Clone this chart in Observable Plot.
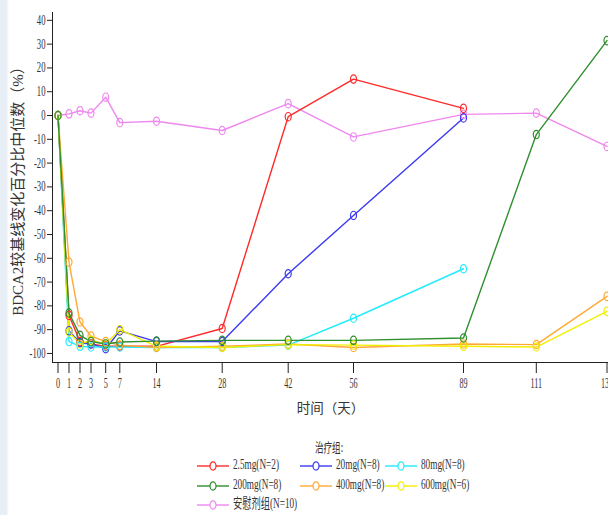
<!DOCTYPE html>
<html>
<head>
<meta charset="utf-8">
<script src="https://cdn.jsdelivr.net/npm/d3@7"></script>
<script src="https://cdn.jsdelivr.net/npm/@observablehq/plot@0.6"></script>
<style>
  html, body { margin: 0; padding: 0; background: linear-gradient(to right, #e7eef6 0, #e7eef6 6px, #ffffff 9px); }
  #wrap { width: 608px; height: 515px; overflow: hidden; }
  svg { display: block; }
</style>
</head>
<body>
<div id="wrap"></div>
<script>
// ---- data ----
const days = [0, 1, 2, 3, 5, 7, 14, 28, 42, 56, 89, 111, 133];
const dayTickLabels = ["0", "1", "2", "3", "5", "7", "14", "28", "42", "56", "89", "111", "133"];
const yTicks = [40, 30, 20, 10, 0, -10, -20, -30, -40, -50, -60, -70, -80, -90, -100];

const groups = ["2.5mg(N=2)", "20mg(N=8)", "80mg(N=8)", "200mg(N=8)", "400mg(N=8)", "600mg(N=6)", "安慰剂组(N=10)"];
const colors = ["#ff2a2a", "#3a3af2", "#20ecfc", "#2f8f2f", "#ffa935", "#f2ee00", "#ee88ee"];

const dose2_5 = [0, -84, -95, -96, -97, -97, -97, -89.5, -0.5, 15.3, 3];
const dose20  = [0, -90.5, -95.5, -96, -98, -90.5, -95, -95, -66.5, -42, -1];
const dose80  = [0, -95, -97, -97.3, -97.3, -97.3, -97.5, -97.5, -96.5, -85.2, -64.4];
const dose200 = [0, -83, -92.4, -95, -96, -95.2, -94.8, -94.5, -94.5, -94.5, -93.5, -8, 31.5];
const dose400 = [0, -61.6, -86.8, -92.7, -95, -96.5, -97.5, -97, -96, -97.5, -96, -96.3, -76];
const dose600 = [0, -91, -96, -94.5, -96, -90, -97, -97.5, -96.3, -96.5, -97, -97.3, -82.3];
const placebo = [0, 0.7, 2, 1, 7.7, -3, -2.4, -6.3, 5, -9, 0.5, 1, -13];

const seriesValues = [dose2_5, dose20, dose80, dose200, dose400, dose600, placebo];
const drawOrder = [6, 0, 1, 2, 4, 5, 3];

const table = [];
for (const gi of drawOrder) {
  seriesValues[gi].forEach((v, i) => table.push({group: groups[gi], day: days[i], value: v}));
}

// hollow ellipse symbol (the reference's markers are slightly taller than wide)
const ellipse = {
  draw(context, size) {
    const r = Math.sqrt(size / Math.PI);
    const rx = r * 0.75, ry = r * 1.05, k = 0.5523;
    context.moveTo(rx, 0);
    context.bezierCurveTo(rx, k * ry, k * rx, ry, 0, ry);
    context.bezierCurveTo(-k * rx, ry, -rx, k * ry, -rx, 0);
    context.bezierCurveTo(-rx, -k * ry, -k * rx, -ry, 0, -ry);
    context.bezierCurveTo(k * rx, -ry, rx, -k * ry, rx, 0);
    context.closePath();
  }
};

const serif = "'Liberation Serif', 'Noto Sans CJK SC', serif";
const cjk = "'Noto Sans CJK SC', 'Liberation Serif', sans-serif";

const chart = Plot.plot({
  width: 608,
  height: 430,
  marginLeft: 52,
  marginRight: 0,
  marginTop: 12,
  marginBottom: 68,
  style: {fontFamily: serif, fontSize: "12px", color: "#222", background: "transparent", overflow: "visible"},
  x: {
    type: "linear",
    domain: [-0.55, ...days],
    range: [52, 57.5, 68.5, 79.5, 90.5, 105.2, 119.3, 156, 221.7, 287.7, 353, 463, 535.8, 606.5]
  },
  y: {domain: [-103.8, 43.3]},
  color: {domain: groups, range: colors},
  marks: [
    Plot.frame({anchor: "left", stroke: "#222"}),
    Plot.frame({anchor: "bottom", stroke: "#222"}),
    Plot.axisY({ticks: yTicks, tickSize: 5, tickPadding: 2, tickFormat: d => String(d), label: null, fontSize: 14, fill: "#333"}),
    Plot.axisX({ticks: days, tickSize: 11, tickPadding: 4, tickFormat: d => dayTickLabels[days.indexOf(d)], label: null, fontSize: 14.5, fill: "#333"}),
    Plot.line(table, {x: "day", y: "value", z: "group", stroke: "group", strokeWidth: 1.4}),
    Plot.dot(table, {x: "day", y: "value", stroke: "group", r: 4, symbol: ellipse, fill: "none", strokeWidth: 1.2}),
    Plot.text(["时间（天）"], {frameAnchor: "bottom", dy: 50, text: d => d, fontSize: 13.5, fontFamily: cjk, fill: "#333", ariaLabel: "xlabel"}),
    Plot.text(["BDCA2较基线变化百分比中位数（%）"], {frameAnchor: "left", textAnchor: "middle", dx: -34, rotate: -90, text: d => d, fontSize: 15, fontFamily: serif, fill: "#333", ariaLabel: "ylabel"})
  ]
});

document.getElementById("wrap").appendChild(chart);

// narrow the glyphs horizontally like the (horizontally compressed) reference
function condense(nodes, f) {
  nodes.each(function () {
    const w = this.getComputedTextLength();
    this.setAttribute("textLength", (w * f).toFixed(1));
    this.setAttribute("lengthAdjust", "spacingAndGlyphs");
  });
}
const root = d3.select(chart);
condense(root.selectAll('g[aria-label="y-axis tick label"] text'), 0.62);
condense(root.selectAll('g[aria-label="x-axis tick label"] text'), 0.56);
condense(root.selectAll('g[aria-label="xlabel"] text'), 0.62);
root.selectAll('g[aria-label="ylabel"] text').each(function () {
  this.setAttribute("textLength", 285);
  this.setAttribute("lengthAdjust", "spacingAndGlyphs");
  this.setAttribute("transform", this.getAttribute("transform") + " scale(1,0.82)");
});

// ---- legend (below the plot) ----
const legendCols = [197, 300, 385];
const legendRows = [36, 56, 75];
const lsvg = d3.select("#wrap").append("svg").attr("width", 608).attr("height", 85)
  .style("font-family", serif).style("font-size", "14px");
const title = lsvg.append("text").attr("x", 329).attr("y", 18).attr("text-anchor", "middle")
  .attr("dominant-baseline", "middle").attr("fill", "#333")
  .style("font-family", cjk).style("font-size", "13px").text("治疗组:");
condense(title, 0.66);
groups.forEach((g, i) => {
  const cx = legendCols[i % 3], cy = legendRows[Math.floor(i / 3)];
  const item = lsvg.append("g").attr("transform", `translate(${cx},${cy})`);
  item.append("line").attr("x1", 0).attr("x2", 32).attr("y1", 0).attr("y2", 0)
    .attr("stroke", colors[i]).attr("stroke-width", 1.4);
  item.append("ellipse").attr("cx", 16).attr("cy", 0).attr("rx", 3).attr("ry", 4.2)
    .attr("fill", "white").attr("stroke", colors[i]).attr("stroke-width", 1.2);
  const t = item.append("text").attr("x", 36).attr("y", 0).attr("dominant-baseline", "middle")
    .attr("fill", "#333").text(g);
  condense(t, 0.66);
});
</script>
</body>
</html>
